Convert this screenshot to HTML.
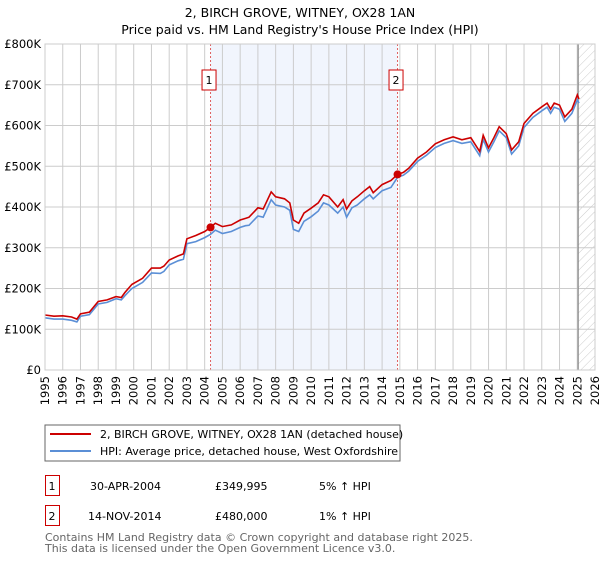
<!DOCTYPE html>
<html><head><meta charset="utf-8"><style>
body{margin:0;background:#fff;font-family:"DejaVu Sans","Liberation Sans",sans-serif;}
svg text{font-family:"DejaVu Sans","Liberation Sans",sans-serif;}
</style></head><body>
<svg id="c" width="600" height="560" xmlns="http://www.w3.org/2000/svg">
<defs><pattern id="hatch" width="6" height="6" patternUnits="userSpaceOnUse" patternTransform="rotate(45)"><line x1="0" y1="0" x2="0" y2="6" stroke="#ccc" stroke-width="1"/></pattern></defs>
<text x="300" y="17" text-anchor="middle" font-size="12.5">2, BIRCH GROVE, WITNEY, OX28 1AN</text>
<text x="300" y="34" text-anchor="middle" font-size="12.5">Price paid vs. HM Land Registry's House Price Index (HPI)</text>
<g id="grid"></g><g id="plot"></g><g id="axes"></g>
<rect x="45" y="425" width="355" height="36" fill="#fff" stroke="#666"/>
<line x1="50" y1="434" x2="91" y2="434" stroke="#cc0000" stroke-width="2"/>
<text x="100" y="438" font-size="11">2, BIRCH GROVE, WITNEY, OX28 1AN (detached house)</text>
<line x1="50" y1="451" x2="91" y2="451" stroke="#5b8fd6" stroke-width="2"/>
<text x="100" y="455" font-size="11">HPI: Average price, detached house, West Oxfordshire</text>
<g>
<rect x="45.5" y="475.5" width="14" height="20" fill="none" stroke="#cc0000"/><text x="52" y="490" font-size="11" text-anchor="middle">1</text>
<text x="90" y="490" font-size="11">30-APR-2004</text><text x="215" y="490" font-size="11">£349,995</text><text x="319" y="490" font-size="11">5% ↑ HPI</text></g>
<g>
<rect x="45.5" y="505.5" width="14" height="20" fill="none" stroke="#cc0000"/><text x="52" y="520" font-size="11" text-anchor="middle">2</text>
<text x="88" y="520" font-size="11">14-NOV-2014</text><text x="215" y="520" font-size="11">£480,000</text><text x="319" y="520" font-size="11">1% ↑ HPI</text></g>
<text x="45" y="541" font-size="11" fill="#666">Contains HM Land Registry data © Crown copyright and database right 2025.</text>
<text x="45" y="552" font-size="11" fill="#666">This data is licensed under the Open Government Licence v3.0.</text>
</svg>
<script>
const years=[1995,1995.5,1996,1996.5,1996.8,1997,1997.5,1998,1998.5,1999,1999.3,1999.5,1999.9,2000.5,2001,2001.5,2001.7,2002,2002.5,2002.8,2003,2003.5,2004,2004.33,2004.6,2005,2005.5,2006,2006.3,2006.5,2007,2007.3,2007.75,2008,2008.5,2008.8,2009,2009.3,2009.6,2010,2010.4,2010.7,2011,2011.5,2011.8,2012,2012.3,2012.6,2013,2013.3,2013.5,2014,2014.5,2014.87,2015.2,2015.5,2016,2016.5,2017,2017.5,2018,2018.5,2019,2019.5,2019.7,2020,2020.3,2020.6,2021,2021.3,2021.7,2022,2022.5,2023,2023.3,2023.5,2023.7,2024,2024.3,2024.7,2025,2025.1];
const red=[135,132,133,130,125,138,142,168,172,180,178,190,210,225,250,250,255,270,280,285,322,330,340,350,360,352,356,368,372,375,398,395,437,425,420,410,368,360,385,397,410,430,425,400,418,395,415,425,440,450,435,455,465,480,485,495,520,535,555,565,572,565,570,536,576,545,570,597,580,540,560,605,630,646,655,640,655,650,621,640,675,665];
const hpi=[128,125,125,122,118,132,136,162,166,175,172,182,200,215,238,237,242,258,268,272,310,315,325,333,343,335,340,350,354,355,378,375,418,405,400,392,345,340,365,376,390,410,405,385,400,375,398,405,420,430,420,440,448,473,478,488,512,527,546,556,563,556,560,526,566,535,560,587,570,530,550,595,620,636,645,630,645,640,610,630,663,655];
const yTicks=[0,100,200,300,400,500,600,700,800];
const yLabels=["£0","£100K","£200K","£300K","£400K","£500K","£600K","£700K","£800K"];
const xTicks=[1995,1996,1997,1998,1999,2000,2001,2002,2003,2004,2005,2006,2007,2008,2009,2010,2011,2012,2013,2014,2015,2016,2017,2018,2019,2020,2021,2022,2023,2024,2025,2026];
const sales=[{n:"1",t:2004.33,v:349.995},{n:"2",t:2014.87,v:480}];
const X0=45,X1=595,Y0=370,Y1=44;
const sx=t=>X0+(t-1995)/31*(X1-X0), sy=v=>Y0-v/800*(Y0-Y1);
const NS="http://www.w3.org/2000/svg";
function mk(tag,parent,attrs){const e=document.createElementNS(NS,tag);for(const k in attrs)e.setAttribute(k,attrs[k]);parent.appendChild(e);return e;}
const grid=document.getElementById('grid'),plot=document.getElementById('plot'),axes=document.getElementById('axes');
// shaded band between sales
const band=mk('rect',grid,{x:sx(sales[0].t),y:Y1,width:sx(sales[1].t)-sx(sales[0].t),height:Y0-Y1,fill:'#eef3fc',opacity:0.8});


const hat=mk('rect',grid,{x:sx(2025.05),y:Y1,width:X1-sx(2025.05),height:Y0-Y1,fill:'url(#hatch)'});


yTicks.forEach((v,i)=>{
 const l=mk('line',grid,{x1:X0,x2:X1,y1:sy(v),y2:sy(v),stroke:'#ccc'});
 
 
 const t=mk('text',axes,{x:X0-4,y:sy(v)+4,'text-anchor':'end','font-size':'11.5'});t.textContent=yLabels[i];
 
 
});
xTicks.forEach(y=>{
 const l=mk('line',grid,{x1:sx(y),x2:sx(y),y1:Y1,y2:Y0,stroke:'#ccc'});
 
 
 const t=mk('text',axes,{x:0,y:0,'text-anchor':'end','font-size':'11.5',transform:`translate(${sx(y)+4},${Y0+6}) rotate(-90)`});t.textContent=y;
 
 
});
const vline=mk('line',grid,{x1:sx(2025.05),x2:sx(2025.05),y1:Y1,y2:Y0,stroke:'#888','stroke-width':1.2});


const fr=mk('rect',axes,{x:X0,y:Y1,width:X1-X0,height:Y0-Y1,fill:'none',stroke:'#ccc'});


sales.forEach(s=>{
 const l=mk('line',plot,{x1:sx(s.t),x2:sx(s.t),y1:Y1,y2:Y0,stroke:'#e06060','stroke-dasharray':'2,2'});
 
 
 const b=mk('rect',plot,{x:sx(s.t)-8.5,y:70,width:14,height:20,fill:'#fff',stroke:'#cc0000'});
 
 
 const t=mk('text',plot,{x:sx(s.t)-1.5,y:84,'text-anchor':'middle','font-size':'11'});t.textContent=s.n;
 
 
});
const pts=a=>a.map((v,i)=>sx(years[i]).toFixed(1)+','+sy(v).toFixed(1)).join(' ');
const hl=mk('polyline',plot,{points:pts(hpi),fill:'none',stroke:'#5b8fd6','stroke-width':1.6});


const rl=mk('polyline',plot,{points:pts(red),fill:'none',stroke:'#cc0000','stroke-width':1.6});


sales.forEach(s=>{
 const c=mk('circle',plot,{cx:sx(s.t),cy:sy(s.v),r:4,fill:'#cc0000'});
 
 
});
</script>
</body></html>
